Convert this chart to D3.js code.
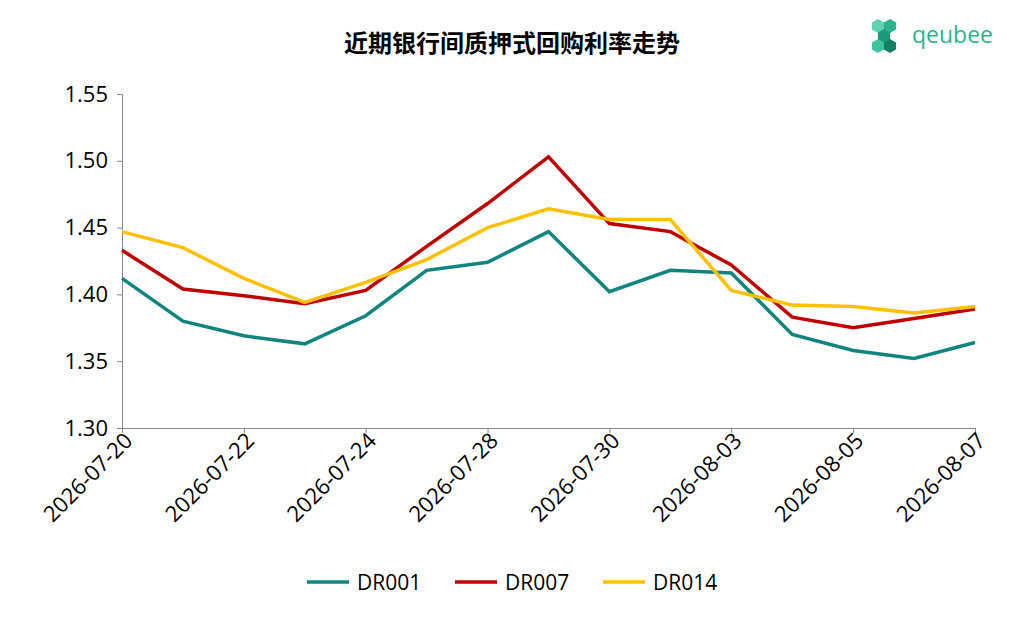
<!DOCTYPE html>
<html><head><meta charset="utf-8">
<script src="https://cdn.jsdelivr.net/npm/d3@7"></script>
<style>body{margin:0;background:#fff;font-family:"Open Sans","Noto Sans CJK SC",sans-serif}</style>
</head><body><svg id="c" width="1024" height="620"></svg>
<script>
const dates = ['2026-07-20','2026-07-21','2026-07-22','2026-07-23','2026-07-24','2026-07-27','2026-07-28','2026-07-29','2026-07-30','2026-07-31','2026-08-03','2026-08-04','2026-08-05','2026-08-06','2026-08-07'];
const dr001 = [1.412,1.380,1.369,1.363,1.384,1.418,1.424,1.447,1.402,1.418,1.416,1.370,1.358,1.352,1.364];
const dr007 = [1.433,1.404,1.399,1.393,1.403,1.436,1.468,1.503,1.453,1.447,1.422,1.383,1.375,1.382,1.389];
const dr014 = [1.447,1.435,1.412,1.394,1.409,1.426,1.450,1.464,1.456,1.456,1.403,1.392,1.391,1.386,1.391];
const yTicks = [1.30,1.35,1.40,1.45,1.50,1.55];
const series = [
  {name:'DR001', values:dr001, color:'#108580'},
  {name:'DR007', values:dr007, color:'#C00000'},
  {name:'DR014', values:dr014, color:'#FFC000'}
];

const svg = d3.select('#c');
const x = d3.scalePoint().domain(dates).range([122, 975]);
const y = d3.scaleLinear().domain([1.30, 1.55]).range([428, 94]);

svg.append('text').attr('x', 512).attr('y', 52).attr('text-anchor', 'middle')
  .style('font-size', '24px').style('font-weight', 'bold').style('font-family', '"Noto Sans CJK SC"')
  .text('近期银行间质押式回购利率走势');

// logo
const logo = svg.append('g').attr('transform', 'translate(884,35)');
const cube = (cx, cy, s, c) => logo.append('path')
  .attr('d', d3.range(6).map(i => { const a = Math.PI/3*i + Math.PI/6; return [cx + s*Math.cos(a), cy + s*Math.sin(a)]; }).map((p,i)=>(i?'L':'M')+p).join('')+'Z')
  .attr('fill', c);
cube(-6, -9, 7, '#5fd3b0'); cube(6, -9, 7, '#2bb38f'); cube(0, 1, 7, '#1a9a7a');
cube(-6, 11, 7, '#3cc49f'); cube(6, 11, 7, '#138066');
logo.append('text').attr('x', 28).attr('y', 8).style('font-size', '23px').style('fill', '#2bb38f')
  .style('font-family', '"Open Sans"').text('qeubee');

svg.append('g').attr('transform', 'translate(122,0)')
  .call(d3.axisLeft(y).tickValues(yTicks).tickFormat(d3.format('.2f')).tickSize(5))
  .call(g => g.select('.domain').attr('stroke', '#888'))
  .call(g => g.selectAll('line').attr('stroke', '#888'))
  .call(g => g.selectAll('text').style('font-size', '22px').style('font-family', '"Open Sans"').attr('fill', '#000').attr('dx', '-6px'));

svg.append('g').attr('transform', 'translate(0,428)')
  .call(d3.axisBottom(x).tickValues(dates.filter((d,i)=>i%2===0)).tickSizeOuter(0).tickSize(5))
  .call(g => g.select('.domain').attr('stroke', '#888'))
  .call(g => g.selectAll('line').attr('stroke', '#888'))
  .call(g => g.selectAll('text').style('font-size', '22px').style('font-family', '"Open Sans"').attr('fill', '#000')
    .attr('text-anchor', 'end').attr('transform', 'rotate(-45)').attr('dx', '-2px').attr('dy', '10px'));

const line = d3.line().x((d,i) => x(dates[i])).y(d => y(d));
series.forEach(s => svg.append('path').datum(s.values).attr('d', line)
  .attr('fill', 'none').attr('stroke', s.color).attr('stroke-width', 3.5));

const lg = svg.append('g').attr('transform', 'translate(307,582)');
series.forEach((s, i) => {
  const g = lg.append('g').attr('transform', `translate(${i*148},0)`);
  g.append('line').attr('x1', 0).attr('x2', 42).attr('stroke', s.color).attr('stroke-width', 3.5);
  g.append('text').attr('x', 50).attr('y', 8).style('font-size', '21px').style('font-family', '"Open Sans"').text(s.name);
});
</script></body></html>
